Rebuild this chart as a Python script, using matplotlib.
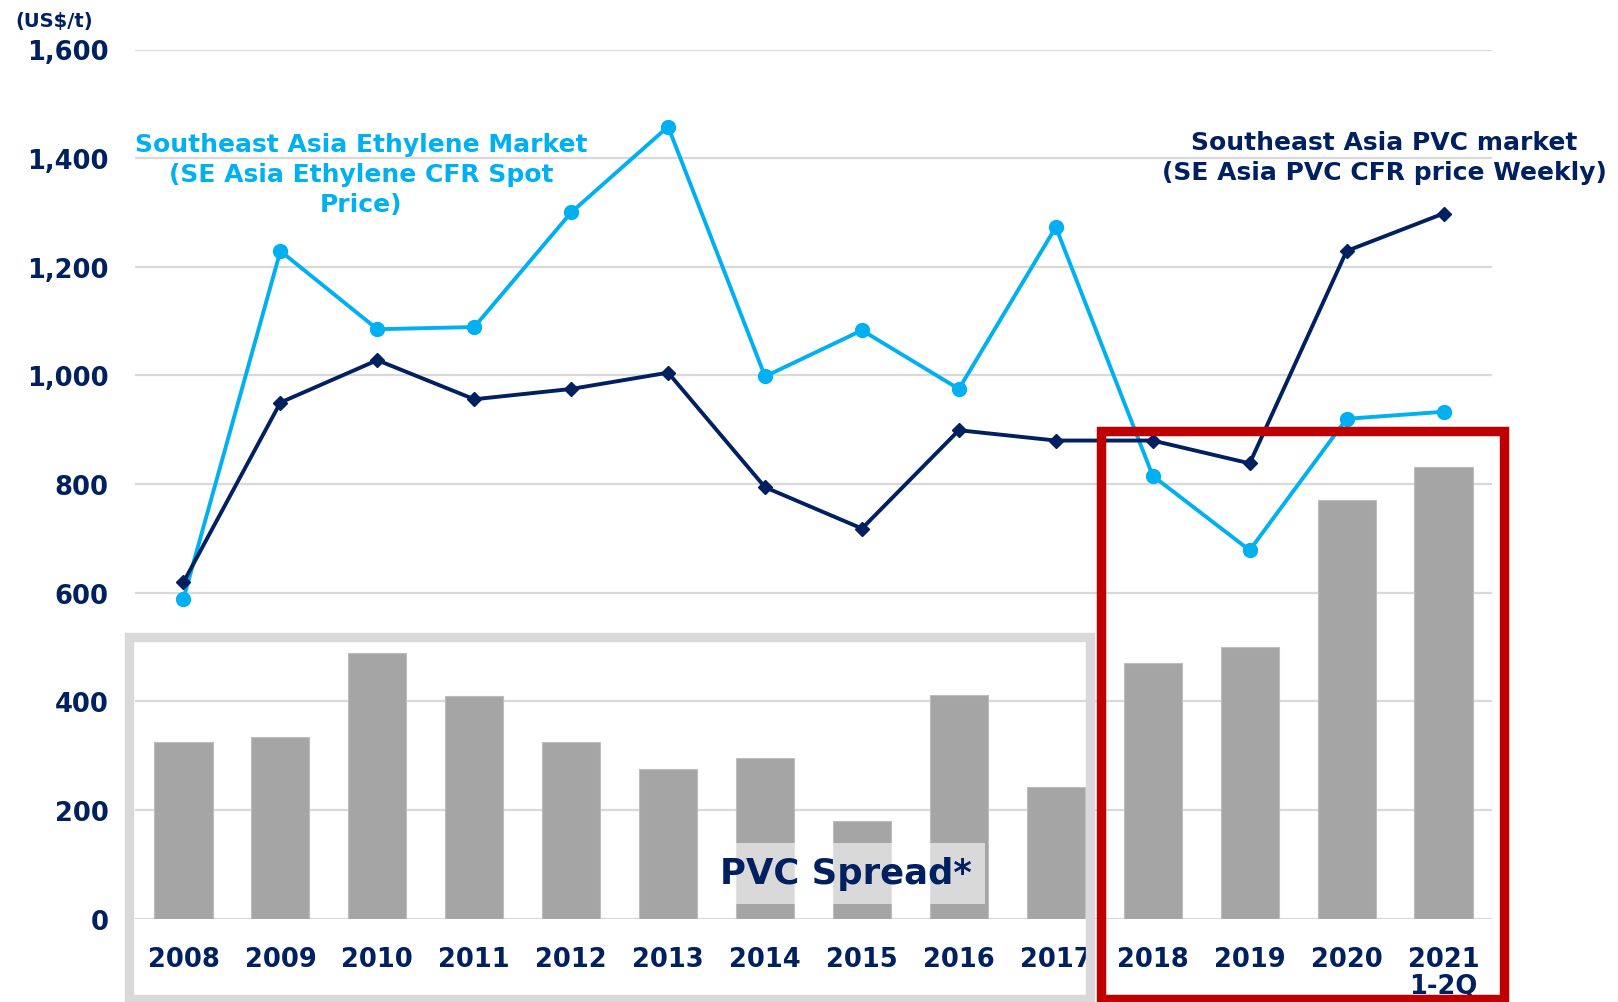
import matplotlib
matplotlib.use("Agg")
import matplotlib.pyplot as plt
from matplotlib.patches import Rectangle
import numpy as np

years = ["2008", "2009", "2010", "2011", "2012", "2013", "2014",
         "2015", "2016", "2017", "2018", "2019", "2020", "2021\n1-2Q"]
spread = [325, 334, 488, 410, 325, 275, 295, 179, 412, 243, 471, 500, 770, 832]
ethylene = [589, 1229, 1085, 1089, 1300, 1458, 998, 1083, 975, 1273, 815, 678, 920, 933]
pvc = [619, 950, 1028, 956, 975, 1005, 794, 718, 899, 880, 880, 838, 1229, 1298]
yticks = [0, 200, 400, 600, 800, 1000, 1200, 1400, 1600]

NAVY = "#002060"
CYAN = "#00B0F0"
BAR = "#a5a5a5"
GRID = "#d9d9d9"
RED = "#C00000"

W, H = 1618, 1003
fig = plt.figure(figsize=(W / 100, H / 100), dpi=100)
ax = fig.add_axes([135 / W, 1 - 919.5 / H, (1492 - 135) / W, (919.5 - 50.5) / H])

x = np.arange(len(years))
ax.bar(x, spread, width=0.6, color=BAR, edgecolor="#bdbdbd", linewidth=0.8, zorder=2)
ax.plot(x, ethylene, color=CYAN, lw=2.8, marker="o", markersize=10, zorder=4)
ax.plot(x, pvc, color=NAVY, lw=2.8, marker="D", markersize=7.5, zorder=5)

ax.set_xlim(-0.5, len(years) - 0.5)
ax.set_ylim(0, 1600)
ax.set_yticks(yticks)
ax.set_yticklabels([f"{v:,}" for v in yticks])
ax.set_xticks(x)
ax.set_xticklabels(years, linespacing=1.0)
for s in ax.spines.values():
    s.set_visible(False)
ax.grid(axis="y", color=GRID, lw=1.6, zorder=0)
ax.set_axisbelow(True)
ax.tick_params(axis="y", length=0, pad=19, labelsize=18.5, labelcolor=NAVY)
ax.tick_params(axis="x", length=0, pad=20, labelsize=18.5, labelcolor=NAVY)
for lab in ax.get_yticklabels() + ax.get_xticklabels():
    lab.set_fontweight("bold")

ax.text(6.83, 83, "PVC Spread*", color=NAVY, fontsize=25.5, fontweight="bold",
        ha="center", va="center", zorder=6,
        bbox=dict(boxstyle="square,pad=0.38", facecolor=(1, 1, 1, 0.58), edgecolor="none"))

fig.text(15 / W, 1 - 21 / H, "(US$/t)", color=NAVY, fontsize=14, fontweight="bold",
         ha="left", va="center")
fig.text(361 / W, 1 - 175 / H, "Southeast Asia Ethylene Market\n(SE Asia Ethylene CFR Spot\nPrice)",
         color=CYAN, fontsize=18, fontweight="bold", ha="center", va="center",
         multialignment="center", linespacing=1.32)
fig.text(1384 / W, 1 - 158 / H, "Southeast Asia PVC market\n(SE Asia PVC CFR price Weekly)",
         color=NAVY, fontsize=18, fontweight="bold", ha="center", va="center",
         multialignment="center", linespacing=1.32)

# frames drawn on top of everything
gray_box = Rectangle((128.5 / W, 1 - 1000 / H), (1090 - 128.5) / W, (1000 - 638) / H,
                     transform=fig.transFigure, fill=False, edgecolor=GRID, lw=6.8, zorder=10)
red_box = Rectangle((1100.5 / W, 1 - 1000 / H), (1504 - 1100.5) / W, (1000 - 432) / H,
                    transform=fig.transFigure, fill=False, edgecolor=RED, lw=6.8, zorder=11)
fig.add_artist(gray_box)
fig.add_artist(red_box)

fig.savefig("out.png", dpi=100)
